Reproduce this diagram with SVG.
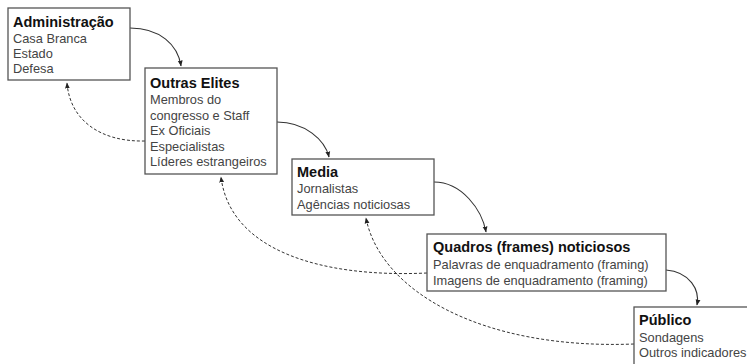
<svg xmlns="http://www.w3.org/2000/svg" width="747" height="364" viewBox="0 0 747 364">
<defs>
<marker id="ah" viewBox="0 0 10 10" refX="9" refY="5" markerWidth="6" markerHeight="6" orient="auto-start-reverse" markerUnits="userSpaceOnUse">
<path d="M0,1 L10,5 L0,9 z" fill="#222"/>
</marker>
<style>
.box{fill:#fff;stroke:#555;stroke-width:1.3}
.t{font-family:"Liberation Sans",Arial,sans-serif;font-weight:bold;font-size:14.5px;fill:#111}
.b{font-family:"Liberation Sans",Arial,sans-serif;font-size:12.8px;fill:#444}
.c{fill:none;stroke:#333;stroke-width:1.1}
.d{fill:none;stroke:#333;stroke-width:1;stroke-dasharray:3 2}
</style>
</defs>
<rect width="747" height="364" fill="#fff"/>
<g id="connectors">
<path class="c" d="M130,28 C160,28 178,45 181,66" marker-end="url(#ah)"/>
<path class="c" d="M277,122 C305,122 325,140 329,157" marker-end="url(#ah)"/>
<path class="c" d="M434,182 C462,182 482,210 486,232" marker-end="url(#ah)"/>
<path class="c" d="M666,270 C690,272 700,290 697,305" marker-end="url(#ah)"/>
<path class="d" d="M145,141 C100,142 70,120 67,83" marker-end="url(#ah)"/>
<path class="d" d="M427,273 C320,278 230,250 221,177" marker-end="url(#ah)"/>
<path class="d" d="M634,344 C480,350 380,290 366,218" marker-end="url(#ah)"/>
</g>
<g id="administracao">
<rect class="box" x="8" y="8" width="122" height="72"/>
<text class="t" x="13" y="27">Administração</text>
<text class="b" x="13" y="43">Casa Branca</text>
<text class="b" x="13" y="58">Estado</text>
<text class="b" x="13" y="73">Defesa</text>
</g>
<g id="outras-elites">
<rect class="box" x="145" y="68" width="132" height="106"/>
<text class="t" x="150" y="88">Outras Elites</text>
<text class="b" x="150" y="104">Membros do</text>
<text class="b" x="150" y="119.5">congresso e Staff</text>
<text class="b" x="150" y="135">Ex Oficiais</text>
<text class="b" x="150" y="150.5">Especialistas</text>
<text class="b" x="150" y="166">Líderes estrangeiros</text>
</g>
<g id="media">
<rect class="box" x="292" y="159" width="142" height="56"/>
<text class="t" x="297" y="177">Media</text>
<text class="b" x="297" y="193">Jornalistas</text>
<text class="b" x="297" y="209">Agências noticiosas</text>
</g>
<g id="quadros">
<rect class="box" x="427" y="234" width="239" height="57"/>
<text class="t" x="433" y="252">Quadros (frames) noticiosos</text>
<text class="b" x="433" y="269">Palavras de enquadramento (framing)</text>
<text class="b" x="433" y="285">Imagens de enquadramento (framing)</text>
</g>
<g id="publico">
<rect class="box" x="634" y="307" width="120" height="70"/>
<text class="t" x="639" y="325">Público</text>
<text class="b" x="639" y="342">Sondagens</text>
<text class="b" x="639" y="357">Outros indicadores</text>
</g>
</svg>
